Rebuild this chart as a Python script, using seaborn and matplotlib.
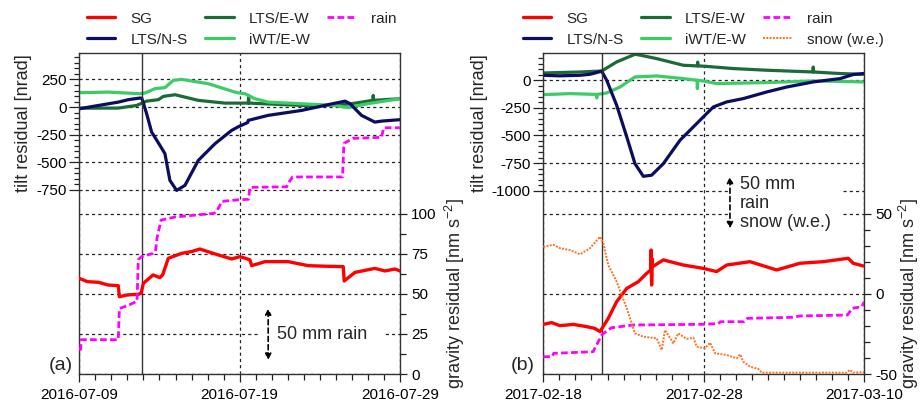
import numpy as np
import pandas as pd
import matplotlib
matplotlib.use('Agg')
import matplotlib.pyplot as plt
import matplotlib.dates as mdates
from matplotlib.ticker import FixedLocator
from matplotlib.lines import Line2D
import seaborn as sns

sns.set_style('ticks')
plt.rcParams['font.family'] = ['Liberation Sans', 'DejaVu Sans']
plt.rcParams['axes.unicode_minus'] = False
plt.rcParams['mathtext.fontset'] = 'custom'
plt.rcParams['mathtext.rm'] = 'Liberation Sans'
plt.rcParams['mathtext.it'] = 'Liberation Sans:italic'
plt.rcParams['mathtext.bf'] = 'Liberation Sans:bold'

# ---------------- data (days since panel start) ----------------
start_a = '2016-07-09'
end_a = '2016-07-29'
event_a = 3.89
xticks_a = ['2016-07-09', '2016-07-19', '2016-07-29']

start_b = '2017-02-18'
end_b = '2017-03-10'
event_b = 3.64
xticks_b = ['2017-02-18', '2017-02-28', '2017-03-10']

# panel (a) SG gravity residual [nm s-2]
sg_a_day = [0, 0.5, 1.2, 1.8, 2.43, 2.5, 3.0, 3.68, 3.85, 4.0, 4.6, 5.03, 5.2, 5.55, 6.38,
            7.0, 7.52, 8.0, 8.67, 9.5, 10.0, 10.3, 10.64, 10.75, 11.58, 13.03, 14.28, 15.5,
            16.46, 16.52, 17.19, 18.43, 19.06, 19.68, 20]
sg_a = [59.8, 57.7, 57.3, 55.6, 55.2, 48.3, 49.4, 49.8, 50.5, 56.7, 61.9, 60.2, 62.0, 72.3, 75.4,
        76.5, 78.1, 76.5, 74.4, 71.9, 73.3, 72.5, 71.3, 67.7, 70.2, 70.2, 67.7, 67.3,
        67.1, 58.1, 63.5, 66.0, 64.4, 65.6, 64.4]

# panel (a) LTS/N-S tilt residual [nrad]
ns_a_day = [0, 1.0, 2.43, 3.05, 3.78, 3.9, 4.2, 4.51, 5.03, 5.34, 5.65, 6.07, 6.59, 7.42,
            8.46, 9.5, 9.96, 10.5, 10.54, 11.78, 13.87, 15.52, 16.57, 16.88, 17.6, 18.43, 18.85, 20]
ns_a = [-15, 10, 45, 67, 82, 80, -60, -226, -347, -422, -664, -755, -709, -483,
        -332, -211, -175, -140, -120, -75, -30, 22, 54, 31, -75, -136, -127, -114]

# panel (a) LTS/E-W tilt residual [nrad]
ew_a_day = [0, 2.43, 3.58, 4.2, 4.93, 5.24, 5.97, 7.42, 9.08, 10.0, 10.54, 10.56, 10.58,
            13.87, 15.9, 17.0, 18.3, 18.33, 18.36, 20]
ew_a = [-10, -9, 15, 54, 67, 97, 112, 61, 36, 36, 36, 106, 36,
        15, 15, 31, 61, 106, 61, 76]

# panel (a) iWT/E-W tilt residual [nrad]
iwt_a_day = [0, 1.8, 3.78, 4.1, 4.72, 5.34, 5.86, 6.38, 8.04, 9.7, 10.0, 10.33, 10.95,
             11.78, 13.87, 15.9, 16.77, 18.0, 20]
iwt_a = [130, 136, 121, 127, 167, 176, 242, 251, 212, 136, 127, 121, 76,
         45, 30, 15, -5, 31, 76]

# panel (a) cumulative rain [mm]
rain_a_day = [0.0, 0.08, 0.12, 2.43, 2.5, 3.05, 3.6, 3.68, 3.9, 4.6, 4.75, 4.85, 5.1, 5.97,
              8.4, 8.55, 8.9, 9.91, 10.55, 10.64, 12.93, 13.1, 13.3, 16.42, 16.5, 17.08,
              18.85, 18.98, 20.0]
rain_a = [23.5, 23.5, 33, 33, 63, 66, 70, 110, 113, 116, 118, 131, 148, 151,
          154.5, 156, 166, 167.5, 168, 179.5, 180, 185, 189.5, 189.5, 221.8, 226.6,
          227.6, 236.8, 236.8]

# panel (b) SG gravity residual [nm s-2]
sg_b_day = [0, 0.52, 1.04, 1.87, 2.7, 3.2, 3.53, 4.05, 4.57, 5.2, 5.92, 6.44, 6.7, 6.72,
            6.75, 6.78, 6.8, 7.48, 8.72, 9.97, 10.8, 11.43, 12.88, 14.54, 15.99, 17.45,
            19.0, 19.31, 19.94]
sg_b = [-19, -17.9, -19.8, -19, -20.4, -21.5, -23.5, -15.2, -4.8, 3.5, 7.7, 12.9, 15, 27.5,
        5.6, 22, 17, 21.3, 18.1, 16, 14, 18.1, 20.2, 15, 19.2, 20.2,
        22.3, 19.2, 17.5]

# panel (b) LTS/N-S tilt residual [nrad]
ns_b_day = [0, 1.0, 2.29, 2.9, 3.64, 3.95, 4.57, 5.2, 5.71, 6.23, 6.75, 7.48, 8.52, 9.56,
            10.59, 11.43, 12.46, 13.92, 15.17, 16.82, 18.49, 19.31, 19.94]
ns_b = [45, 40, 45, 54, 82, 0, -226, -513, -755, -870, -860, -755, -543, -392,
        -242, -196, -166, -106, -61, -15, 15, 52, 61]

# panel (b) LTS/E-W tilt residual [nrad]
ew_b_day = [0, 2.29, 3.64, 4.57, 5.71, 6.02, 7.07, 8.72, 9.6, 9.62, 9.64, 10.07, 11.84,
            13.92, 16.8, 16.82, 16.84, 18.49, 19.94]
ew_b = [66, 75, 84, 166, 235, 228, 196, 136, 130, 165, 130, 127, 106,
        91, 75, 120, 75, 61, 54]

# panel (b) iWT/E-W tilt residual [nrad]
iwt_b_day = [0, 1.67, 3.3, 3.33, 3.36, 3.95, 4.78, 5.71, 7.07, 8.72, 9.58, 9.6, 9.62,
             10.07, 10.8, 13.92, 16.82, 19.94]
iwt_b = [-130, -121, -128, -160, -128, -115, -61, 30, 39, 15, 0, -75, 0,
         -9, -30, -21, -6, -15]

# panel (b) cumulative rain [mm]
rain_b_day = [0, 0.55, 0.65, 3.1, 3.64, 4.0, 4.26, 5.6, 9.97, 10.9, 11.05, 12.5, 12.7,
              15.5, 16.0, 18.95, 19.25, 19.85, 20.0]
rain_b = [16.6, 16.6, 19.9, 21.4, 37.5, 42, 44.5, 47.1, 47.8, 48.5, 50.3, 50.3, 53.5,
          54.5, 55.8, 56.7, 63.2, 64.7, 69.5]

# panel (b) snow water equivalent [mm]
snow_b_day = [0, 0.62, 1.04, 1.66, 2.29, 2.91, 3.53, 3.74, 4.05, 4.57, 5.2, 5.71, 6.23,
              7.07, 7.38, 7.58, 8.1, 8.41, 8.93, 9.35, 9.56, 10.07, 10.39, 10.7, 11.43,
              12.05, 12.26, 12.46, 12.88, 13.4, 13.6, 18.9, 19.1, 19.3, 20]
snow_b = [122.4, 124.3, 121, 119.2, 115.1, 121, 132, 125.7, 104.8, 88.8, 63.2, 39.1, 35.9,
          34.3, 23.1, 42.3, 29.5, 39.1, 33.7, 34.9, 26.3, 24.7, 30.1, 19.9, 18.3,
          15.1, 18.9, 11.8, 7.0, 4.8, 1.3, 1.3, 4.0, 1.3, 1.8]

# ---------------- styles ----------------
C_SG = '#ff0000'
C_NS = '#0c0c60'
C_EW = '#1b6b38'
C_IWT = '#3ccb66'
C_RAIN = '#ff00ff'
C_SNOW = '#ff7020'
RAIN_LS = (0, (2.4, 1.2))
SNOW_LS = (0, (1, 0.7))
GRID_KW = dict(color='#222222', lw=0.9, ls=(0, (2.5, 2.5)))
LAB_FS = 13

W, H = 922, 409
fig = plt.figure(figsize=(W / 100, H / 100), dpi=100)


def t(start, days):
    return pd.Timestamp(start) + pd.to_timedelta(np.asarray(days, dtype=float), unit='D')


def line(ax, start, days, vals, color, lw, ls='-'):
    sns.lineplot(x=t(start, days), y=np.asarray(vals, dtype=float), ax=ax, color=color,
                 lw=lw, linestyle=ls, estimator=None, sort=False, legend=False)


def panel(rect, start, end, event, xt, tilt_lim, tilt_major, tilt_minor, grav_lim,
          grav_major, grav_minor, series, rain_day, rain, snow_day, snow, tag,
          tilt_lab_x, grav_lab_x, leg_x, note, note_pos, arrow_x, arrow_y, pad):
    ax = fig.add_axes(rect)
    axg = ax.twinx()
    axp = ax.twinx()

    # precipitation (hidden axis, mm)
    line(axp, start, rain_day, rain, C_RAIN, 2.0, RAIN_LS)
    if snow is not None:
        line(axp, start, snow_day, snow, C_SNOW, 1.4, SNOW_LS)
    axp.set_ylim(0, 308.7)
    axp.axis('off')

    # gravity
    sg_day, sg = series['SG']
    line(axg, start, sg_day, sg, C_SG, 2.4)
    axg.set_ylim(*grav_lim)
    axg.yaxis.set_major_locator(FixedLocator(grav_major))
    axg.yaxis.set_minor_locator(FixedLocator(grav_minor))
    axg.grid(axis='y', which='major', **GRID_KW)
    axg.tick_params(axis='y', which='major', direction='out', length=5, width=0.9,
                    labelsize=11, pad=3, colors='#222222', labelcolor='black')
    axg.tick_params(axis='y', which='minor', direction='out', length=4, width=0.9,
                    colors='#222222')
    axg.set_ylabel('gravity residual [nm s$^{-2}$]', fontsize=LAB_FS, rotation=90)
    axg.yaxis.set_label_coords(grav_lab_x, 0.25)
    for s in axg.spines.values():
        s.set_visible(False)

    # tilt
    for key, c in (('LTS/E-W', C_EW), ('iWT/E-W', C_IWT), ('LTS/N-S', C_NS)):
        d, v = series[key]
        line(ax, start, d, v, c, 2.3)
    ax.set_ylim(*tilt_lim)
    ax.yaxis.set_major_locator(FixedLocator(tilt_major))
    ax.yaxis.set_minor_locator(FixedLocator(tilt_minor))
    ax.set_ylabel('tilt residual [nrad]', fontsize=LAB_FS)
    ax.yaxis.set_label_coords(tilt_lab_x, 0.78)
    ax.grid(axis='y', which='major', **GRID_KW)
    ax.grid(axis='x', which='major', **GRID_KW)
    ax.tick_params(axis='y', which='major', direction='out', length=7, width=0.9,
                   labelsize=11, pad=2, colors='#222222', labelcolor='black')
    ax.tick_params(axis='y', which='minor', direction='out', length=3.5, width=0.9,
                   colors='#222222')

    # x axis
    ax.set_xlim(pd.Timestamp(start), pd.Timestamp(end))
    ax.xaxis.set_major_locator(FixedLocator(mdates.date2num(pd.to_datetime(xt))))
    ax.xaxis.set_major_formatter(mdates.DateFormatter('%Y-%m-%d'))
    ax.xaxis.set_minor_locator(mdates.DayLocator())
    ax.tick_params(axis='x', which='major', direction='out', length=6, width=0.9,
                   labelsize=11, pad=4, colors='#222222', labelcolor='black')
    ax.tick_params(axis='x', which='minor', direction='out', length=4, width=0.9,
                   colors='#222222')
    ax.set_xlabel('')
    for s in ax.spines.values():
        s.set_visible(True)
        s.set_color('#333333')
        s.set_linewidth(1.0)

    ax.axvline(pd.Timestamp(start) + pd.Timedelta(days=event), color='#333333', lw=1.0)

    # annotation with white box
    axp.text(t(start, [note_pos[0]])[0], note_pos[1], note, fontsize=13, ha='left',
             va='center', linespacing=1.12, zorder=5,
             bbox=dict(boxstyle='square,pad=%s' % pad, fc='white', ec='none'))
    xa = t(start, [arrow_x])[0]
    axp.annotate('', xy=(xa, arrow_y[1]), xytext=(xa, arrow_y[0]), zorder=6,
                 arrowprops=dict(arrowstyle='<|-|>', color='black', lw=1.2,
                                 linestyle=(0, (3, 2)), mutation_scale=9,
                                 shrinkA=0, shrinkB=0))

    # legend
    handles = [Line2D([], [], color=C_SG, lw=2.4),
               Line2D([], [], color=C_NS, lw=2.3),
               Line2D([], [], color=C_EW, lw=2.3),
               Line2D([], [], color=C_IWT, lw=2.3),
               Line2D([], [], color=C_RAIN, lw=2.0, ls=RAIN_LS)]
    labels = ['SG', 'LTS/N-S', 'LTS/E-W', 'iWT/E-W', 'rain']
    if snow is not None:
        handles.append(Line2D([], [], color=C_SNOW, lw=1.4, ls=SNOW_LS))
        labels.append('snow (w.e.)')
    axp.legend(handles, labels, ncol=3, loc='lower left', bbox_to_anchor=(leg_x, 1.02),
               frameon=False, fontsize=11, handlelength=1.85, handletextpad=1.0,
               columnspacing=1.15, borderaxespad=0, borderpad=0, labelspacing=0.45)

    fig.text(tag[1] / W, 1 - tag[2] / H, tag[0], fontsize=14, ha='center', va='center')
    return ax


ax_h = 321 / H
ax_b0 = (H - 374) / H

panel([79.3 / W, ax_b0, 320.7 / W, ax_h], start_a, end_a, event_a, xticks_a,
      (-2418, 490), [-750, -500, -250, 0, 250], list(range(-750, 491, 50)),
      (0, 200.6), [0, 25, 50, 75, 100], [12.5, 37.5, 62.5, 87.5],
      {'SG': (sg_a_day, sg_a), 'LTS/N-S': (ns_a_day, ns_a), 'LTS/E-W': (ew_a_day, ew_a),
       'iWT/E-W': (iwt_a_day, iwt_a)},
      rain_a_day, rain_a, None, None, ('(a)', 60.5, 365.5),
      -0.148, 1.134, 0.024, '50 mm rain', (12.31, 38.2), 11.78, (13.5, 63.2), 0.9)

panel([543.3 / W, ax_b0, 321 / W, ax_h], start_b, end_b, event_b, xticks_b,
      (-2661, 247), [-1000, -750, -500, -250, 0], list(range(-1000, 247, 50)),
      (-50, 150.6), [-50, 0, 50], [-40, -30, -20, -10, 10, 20, 30, 40],
      {'SG': (sg_b_day, sg_b), 'LTS/N-S': (ns_b_day, ns_b), 'LTS/E-W': (ew_b_day, ew_b),
       'iWT/E-W': (iwt_b_day, iwt_b)},
      rain_b_day, rain_b, snow_b_day, snow_b, ('(b)', 522.5, 365.5),
      -0.171, 1.103, -0.063, '50 mm\nrain\nsnow (w.e.)', (12.26, 164), 11.63,
      (140, 189.7), 0.55)

fig.savefig('out.png', dpi=100)
